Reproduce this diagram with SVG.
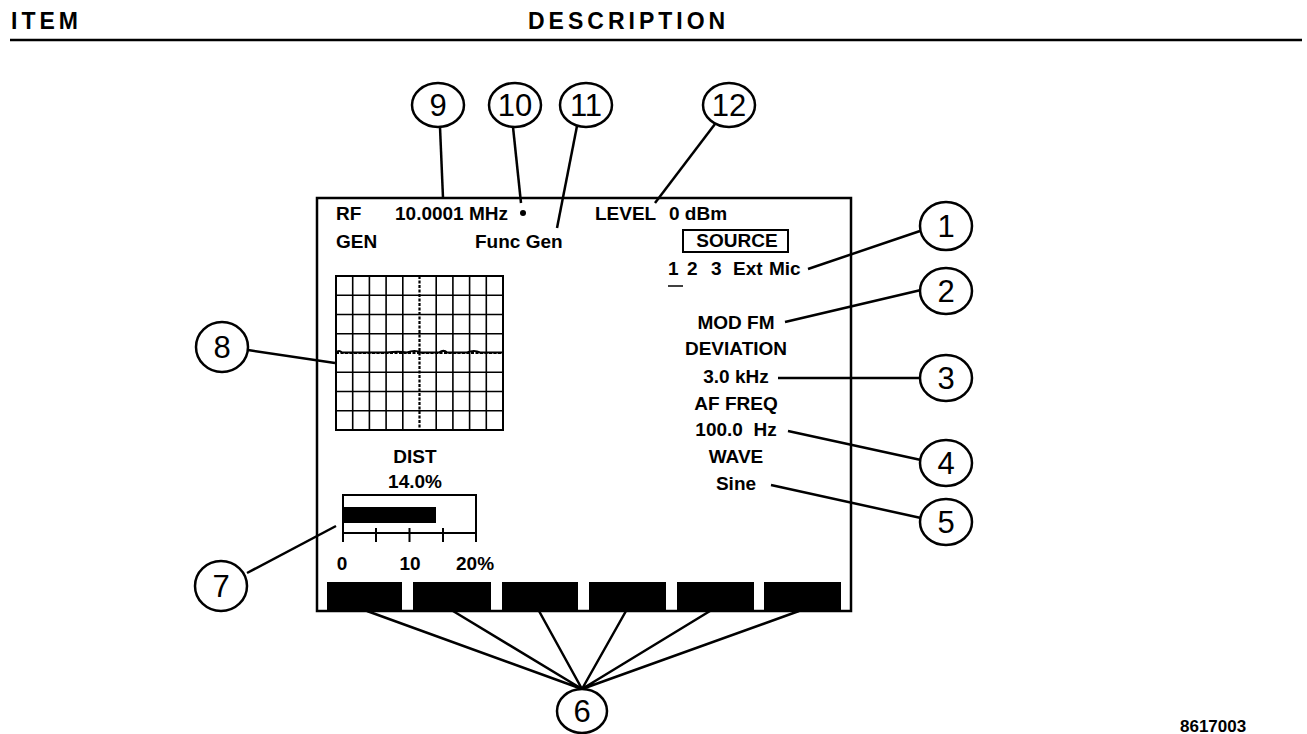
<svg xmlns="http://www.w3.org/2000/svg" width="1307" height="734" viewBox="0 0 1307 734">
<style>
.t{font-family:"Liberation Sans",Arial,Helvetica,sans-serif;font-size:19px;font-weight:bold;fill:#000}
.m{text-anchor:middle}
.h{font-family:"Liberation Sans",Arial,Helvetica,sans-serif;font-size:23px;font-weight:bold;letter-spacing:4px;fill:#000}
.c ellipse{fill:#fff;stroke:#000;stroke-width:2.5}
.c text{font-family:"Liberation Sans",Arial,Helvetica,sans-serif;font-size:31px;text-anchor:middle;fill:#000}
.ln{stroke:#000;stroke-width:2.5;fill:none}
.g{stroke:#000;stroke-width:1.6;fill:none}
</style>
<rect width="1307" height="734" fill="#fff"/>
<!-- header -->
<g id="header">
<text class="h" x="11" y="29">ITEM</text>
<text class="h" x="528" y="29">DESCRIPTION</text>
<line x1="10" y1="40" x2="1302" y2="40" stroke="#000" stroke-width="2.5"/>
</g>
<!-- screen -->
<g id="screen">
<rect x="317" y="198" width="534" height="413" fill="none" stroke="#000" stroke-width="2.5"/>
<text class="t" x="336" y="220">RF</text>
<text class="t" x="395" y="220">10.0001 MHz</text>
<circle cx="523" cy="213" r="3"/>
<text class="t" x="595" y="220">LEVEL</text>
<text class="t" x="669" y="220">0 dBm</text>
<text class="t" x="336" y="248">GEN</text>
<text class="t" x="475" y="248">Func Gen</text>
<rect x="683" y="230" width="105" height="22" fill="none" stroke="#000" stroke-width="2"/>
<text class="t m" x="737" y="247">SOURCE</text>
<text class="t" y="275"><tspan x="668">1</tspan><tspan x="687">2</tspan><tspan x="711">3</tspan><tspan x="733">Ext</tspan><tspan x="769">Mic</tspan></text>
<line x1="668" y1="286" x2="683" y2="286" stroke="#000" stroke-width="1.5"/>
<text class="t m" x="736" y="329">MOD FM</text>
<text class="t m" x="736" y="355">DEVIATION</text>
<text class="t m" x="736" y="383">3.0 kHz</text>
<text class="t m" x="736" y="410">AF FREQ</text>
<text class="t m" x="736" y="436" xml:space="preserve">100.0  Hz</text>
<text class="t m" x="736" y="463">WAVE</text>
<text class="t m" x="736" y="490">Sine</text>
</g>
<g id="graticule">
<rect x="336" y="276" width="167" height="154" fill="none" stroke="#000" stroke-width="2"/>
<path class="g" d="M352.7 276V430M369.4 276V430M386.1 276V430M402.8 276V430M436.2 276V430M452.9 276V430M469.6 276V430M486.3 276V430M336 295.25H503M336 314.5H503M336 333.75H503M336 372.25H503M336 391.5H503M336 410.75H503"/>
<path d="M419.5 276V430M336 353H503" stroke="#000" stroke-width="2.2" stroke-dasharray="3 1.5" fill="none"/>
<path d="M336 352.5c2-2 4-2 6 0c15 0 30 0 45 0c8-1 14-1 20 0c5-2 10-2 14 0c6 0 12 0 18 0c3-2 6-2 8 0c8 0 15 0 20 0c5-2 9-2 13 0c4 0 10 0 23 0" stroke="#000" stroke-width="2" fill="none"/>
</g>
<g id="dist">
<text class="t m" x="415" y="463">DIST</text>
<text class="t m" x="415" y="488">14.0%</text>
<path d="M343 540V495H476V540" fill="none" stroke="#000" stroke-width="2"/>
<rect x="343" y="507" width="93" height="16"/>
<line x1="343" y1="533" x2="476" y2="533" stroke="#000" stroke-width="2"/>
<path d="M376 528V542M409.5 528V542M443 528V542M343 528V542M476 528V542" stroke="#000" stroke-width="2"/>
<text class="t m" x="342" y="570">0</text>
<text class="t m" x="410" y="570">10</text>
<text class="t" x="456" y="570">20%</text>
</g>
<g id="softkeys">
<rect x="327" y="582" width="75" height="29"/>
<rect x="413" y="582" width="78" height="29"/>
<rect x="502" y="582" width="76" height="29"/>
<rect x="589" y="582" width="77" height="29"/>
<rect x="677" y="582" width="77" height="29"/>
<rect x="764" y="582" width="77" height="29"/>
</g>
<g id="connectors">
<path class="ln" d="M920 231L808 269"/>
<path class="ln" d="M921 290L785 322"/>
<path class="ln" d="M920 378L778 378"/>
<path class="ln" d="M921 460L788 431"/>
<path class="ln" d="M921 518L771 485"/>
<path class="ln" d="M367 611L582 689M453 611L582 689M539 611L582 689M626 611L582 689M710 611L582 689M799 611L582 689"/>
<path class="ln" d="M247 573L336 526"/>
<path class="ln" d="M248 350L335 363"/>
<path class="ln" d="M440 127L443 198"/>
<path class="ln" d="M513 127L521 203"/>
<path class="ln" d="M577 126L557 228"/>
<path class="ln" d="M715 124L655 203"/>
</g>
<g id="callout1" class="c"><ellipse cx="946" cy="226" rx="26" ry="24"/><text x="946" y="237">1</text></g>
<g id="callout2" class="c"><ellipse cx="946" cy="291" rx="26" ry="23"/><text x="946" y="302">2</text></g>
<g id="callout3" class="c"><ellipse cx="946" cy="378" rx="26" ry="23"/><text x="946" y="389">3</text></g>
<g id="callout4" class="c"><ellipse cx="946" cy="463" rx="26" ry="23"/><text x="946" y="474">4</text></g>
<g id="callout5" class="c"><ellipse cx="946" cy="522" rx="26" ry="23"/><text x="946" y="533">5</text></g>
<g id="callout6" class="c"><ellipse cx="582" cy="711" rx="25" ry="22"/><text x="582" y="722">6</text></g>
<g id="callout7" class="c"><ellipse cx="221" cy="586" rx="26" ry="25"/><text x="221" y="597">7</text></g>
<g id="callout8" class="c"><ellipse cx="222" cy="347" rx="26" ry="25"/><text x="222" y="358">8</text></g>
<g id="callout9" class="c"><ellipse cx="438" cy="105" rx="26" ry="22"/><text x="438" y="116">9</text></g>
<g id="callout10" class="c"><ellipse cx="515" cy="105" rx="26" ry="22"/><text x="515" y="116">10</text></g>
<g id="callout11" class="c"><ellipse cx="586" cy="105" rx="26" ry="22"/><text x="586" y="116">11</text></g>
<g id="callout12" class="c"><ellipse cx="729" cy="105" rx="26" ry="22"/><text x="729" y="116">12</text></g>
<text id="code" x="1180" y="732" style="font-family:'Liberation Sans',Arial,sans-serif;font-size:17px;font-weight:bold">8617003</text>
</svg>
